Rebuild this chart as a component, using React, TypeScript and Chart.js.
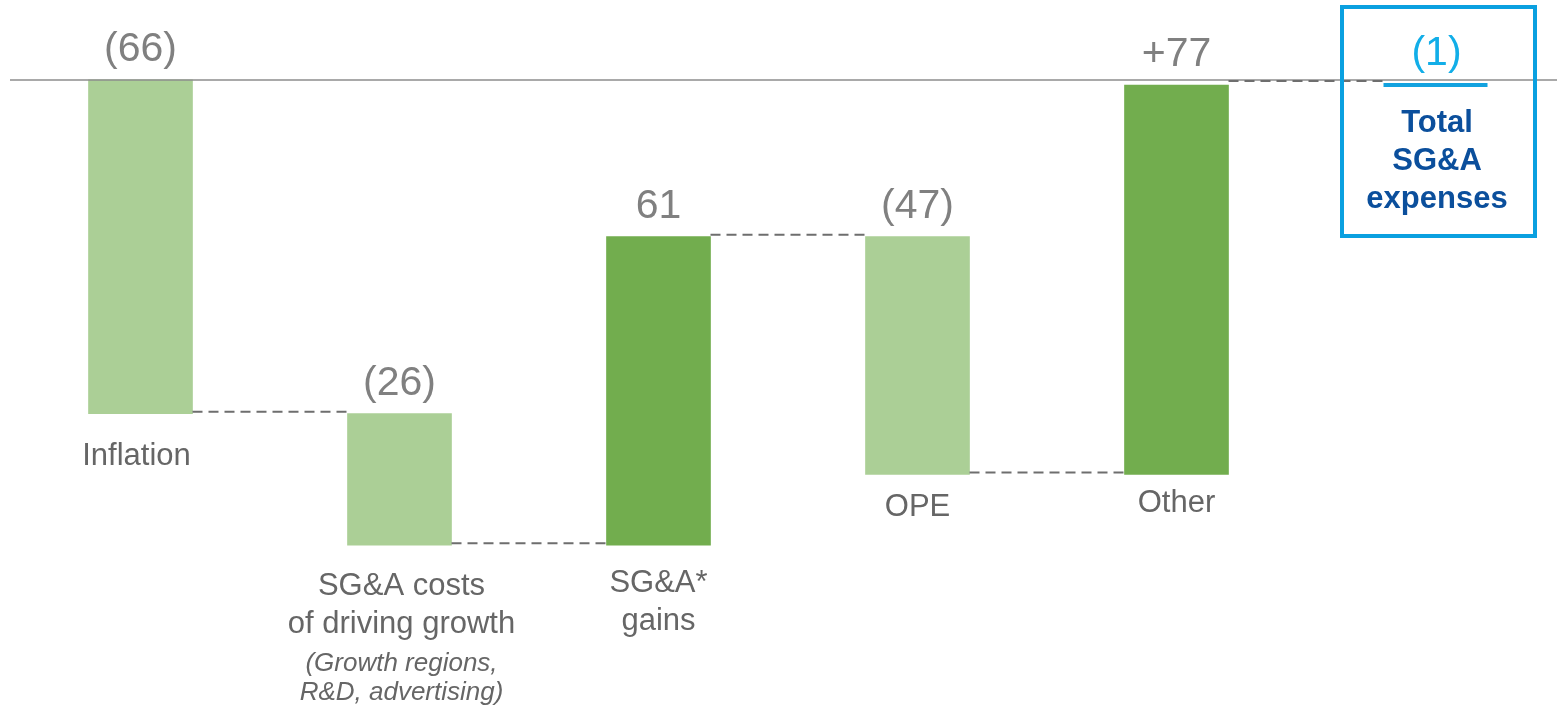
import React, { useEffect, useRef } from "react";
import { Chart, registerables } from "chart.js";

Chart.register(...registerables);

// ---- data ----
const categories = ["Inflation", "SG&A costs of driving growth", "SG&A* gains", "OPE", "Other", "Total SG&A expenses"];
const deltas = [-66, -26, 61, -47, 77];
const totalValue = -1;
const valueLabels = ["(66)", "(26)", "61", "(47)", "+77", "(1)"];
const categoryLines = [["Inflation"], ["SG&A costs", "of driving growth"], ["SG&A*", "gains"], ["OPE"], ["Other"]];
const noteLines = [[], ["(Growth regions,", "R&D, advertising)"], [], [], []];
const totalLines = ["Total", "SG&A", "expenses"];

// ---- layout / style constants ----
const FONT = "'Liberation Sans', Arial, sans-serif";
const LIGHT = "#abcf96";
const DARK = "#72ad4e";
const labelOffsets = [51, 50, 47, 42, 38];
const labelShift = [-4, 2, 0, 0, 0];

export default function App() {
  const ref = useRef<HTMLCanvasElement | null>(null);

  useEffect(() => {
    if (!ref.current) return;
    const starts: number[] = [];
    const ends: number[] = [];
    let cum = 0;
    deltas.forEach((d) => {
      starts.push(cum);
      cum += d;
      ends.push(cum);
    });
    const floating: any[] = deltas.map((_, i) => [starts[i], ends[i]]);
    floating.push(null);
    const colors = deltas.map((d) => (d < 0 ? LIGHT : DARK));
    colors.push(LIGHT);

    const overlay = {
      id: "overlay",
      afterDraw(chart: any) {
        const ctx = chart.ctx;
        const xs = chart.scales.x;
        const ys = chart.scales.y;
        const half = 52;
        ctx.save();
        // baseline
        const y0 = ys.getPixelForValue(0);
        ctx.strokeStyle = "#8c8c8c";
        ctx.lineWidth = 1.5;
        ctx.beginPath();
        ctx.moveTo(10, y0);
        ctx.lineTo(1557, y0);
        ctx.stroke();

        // connectors
        ctx.strokeStyle = "#6e6e6e";
        ctx.lineWidth = 2;
        ctx.setLineDash([10, 6]);
        for (let i = 0; i < deltas.length; i++) {
          const last = i === deltas.length - 1;
          const yy = ys.getPixelForValue(ends[i]) - (last ? 4 : 2);
          const xa = xs.getPixelForValue(i) + half;
          const xb = xs.getPixelForValue(i + 1) - half;
          ctx.beginPath();
          ctx.moveTo(xa, yy);
          ctx.lineTo(xb, yy);
          ctx.stroke();
        }
        ctx.setLineDash([]);

        // total marker line
        const ti = deltas.length;
        const tx = xs.getPixelForValue(ti);
        const ty = ys.getPixelForValue(totalValue);
        ctx.strokeStyle = "#12a2df";
        ctx.lineWidth = 4;
        ctx.beginPath();
        ctx.moveTo(tx - half, ty);
        ctx.lineTo(tx + half, ty);
        ctx.stroke();

        // value labels
        ctx.textAlign = "center";
        ctx.textBaseline = "alphabetic";
        ctx.font = `41px ${FONT}`;
        for (let i = 0; i < deltas.length; i++) {
          const top = Math.min(ys.getPixelForValue(starts[i]), ys.getPixelForValue(ends[i]));
          ctx.fillStyle = "#808080";
          ctx.fillText(valueLabels[i], xs.getPixelForValue(i), top - 19);
        }
        ctx.fillStyle = "#12aee8";
        ctx.fillText(valueLabels[ti], tx + 1, ty - 20);

        // category labels
        for (let i = 0; i < deltas.length; i++) {
          const bottom = Math.max(ys.getPixelForValue(starts[i]), ys.getPixelForValue(ends[i]));
          const cx = xs.getPixelForValue(i) + labelShift[i];
          let by = bottom + labelOffsets[i];
          ctx.fillStyle = "#666666";
          ctx.font = `31px ${FONT}`;
          categoryLines[i].forEach((ln, k) => {
            ctx.fillText(ln, cx, by + k * 38);
          });
          let ny = by + (categoryLines[i].length - 1) * 38 + 38;
          ctx.font = `italic 26px ${FONT}`;
          noteLines[i].forEach((ln, k) => {
            ctx.fillText(ln, cx, ny + k * 29);
          });
        }

        // total box
        ctx.strokeStyle = "#0aa0e0";
        ctx.lineWidth = 4;
        ctx.strokeRect(1342, 7, 193, 229);
        ctx.fillStyle = "#0b4f9c";
        ctx.font = `bold 31px ${FONT}`;
        totalLines.forEach((ln, k) => {
          ctx.fillText(ln, 1437, ty + 47 + k * 38);
        });
        ctx.restore();
      },
    };

    const chart = new Chart(ref.current, {
      type: "bar",
      data: {
        labels: categories,
        datasets: [
          {
            data: floating,
            backgroundColor: colors,
            borderWidth: 0,
            borderSkipped: false,
            barThickness: 104,
          } as any,
        ],
      },
      options: {
        animation: false,
        responsive: false,
        maintainAspectRatio: false,
        layout: { padding: { left: 11, right: 0, top: 0, bottom: 0 } },
        plugins: { legend: { display: false }, tooltip: { enabled: false } },
        scales: {
          x: { display: false, offset: true, grid: { display: false } },
          y: { display: false, min: -123.6, max: 15.8, grid: { display: false } },
        },
      },
      plugins: [overlay],
    });
    return () => chart.destroy();
  }, []);

  return (
    <div style={{ position: "absolute", left: 0, top: 0, width: 1557, height: 705, overflow: "hidden", background: "#fff" }}>
      <canvas ref={ref} width={1565} height={705} style={{ display: "block", width: 1565, height: 705 }} />
    </div>
  );
}
